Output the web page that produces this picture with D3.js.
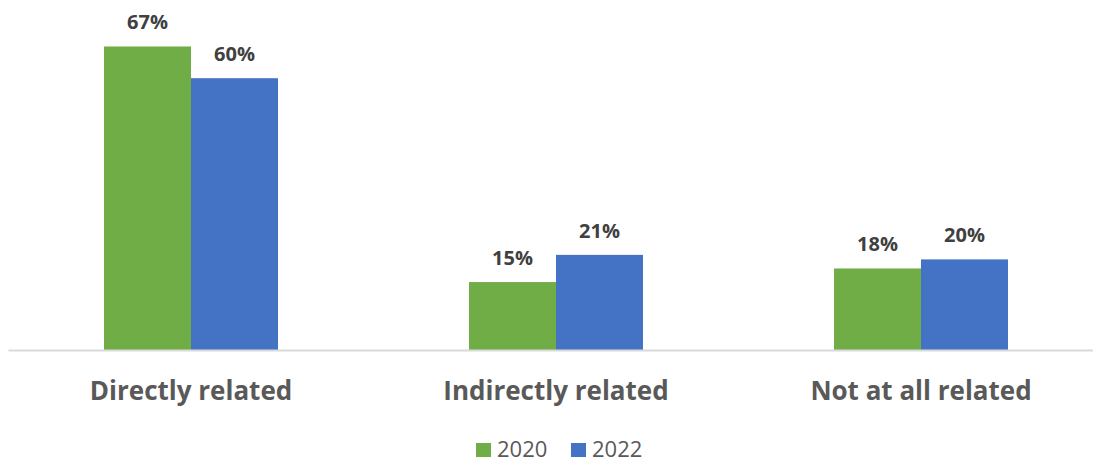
<!DOCTYPE html>
<html><head><meta charset="utf-8">
<script src="https://cdn.jsdelivr.net/npm/d3@7"></script>
<style>body{margin:0;background:#fff;}svg{display:block;}</style>
</head><body>
<svg id="chart" width="1093" height="462"></svg>
<script>
const categories = ["Directly related", "Indirectly related", "Not at all related"];
const seriesNames = ["2020", "2022"];
const values2020 = [67, 15, 18];
const values2022 = [60, 21, 20];
const colors = ["#70AD47", "#4472C4"];

const svg = d3.select("#chart");
const baseY = 350;
const x0 = d3.scaleBand().domain(categories).range([8.5, 1103.5]).paddingInner(0).paddingOuter(0);
const x1 = d3.scaleBand().domain(seriesNames).range([0, x0.bandwidth()]).paddingInner(0).paddingOuter(1.098);
const y = d3.scaleLinear().domain([0, 100]).range([baseY, baseY - 453]);

const data = categories.map((c, i) => ({cat: c, vals: [values2020[i], values2022[i]]}));
const font = "'Open Sans', sans-serif";

const g = svg.append("g");
data.forEach(d => {
  d.vals.forEach((v, j) => {
    const xp = x0(d.cat) + x1(seriesNames[j]);
    g.append("rect").attr("x", xp).attr("y", y(v)).attr("width", x1.bandwidth()).attr("height", baseY - y(v)).attr("fill", colors[j]);
    g.append("text").attr("x", xp + x1.bandwidth()/2).attr("y", y(v) - 17).attr("text-anchor", "middle")
      .attr("font-family", font).attr("font-weight", "bold").attr("font-size", 20).attr("fill", "#404040").text(v + "%");
  });
});

// axis
const axis = d3.axisBottom(x0).tickSize(0).tickPadding(0);
const ax = svg.append("g").attr("transform", `translate(0,${baseY})`).call(axis);
ax.select(".domain").attr("stroke", "#D9D9D9").attr("stroke-width", 2).attr("d", "M8.5,0.5H1093");
ax.selectAll("text").attr("dy", 0).attr("y", 50).attr("font-family", font).attr("font-weight", "bold").attr("font-size", 26).attr("fill", "#595959");

// legend
const legend = svg.append("g");
const legX = [476, 571];
seriesNames.forEach((s, j) => {
  legend.append("rect").attr("x", legX[j]).attr("y", 443).attr("width", 15).attr("height", 14).attr("fill", colors[j]);
  legend.append("text").attr("x", legX[j] + 21).attr("y", 457).attr("font-family", font).attr("font-size", 22).attr("fill", "#595959").text(s);
});
</script>
</body></html>
